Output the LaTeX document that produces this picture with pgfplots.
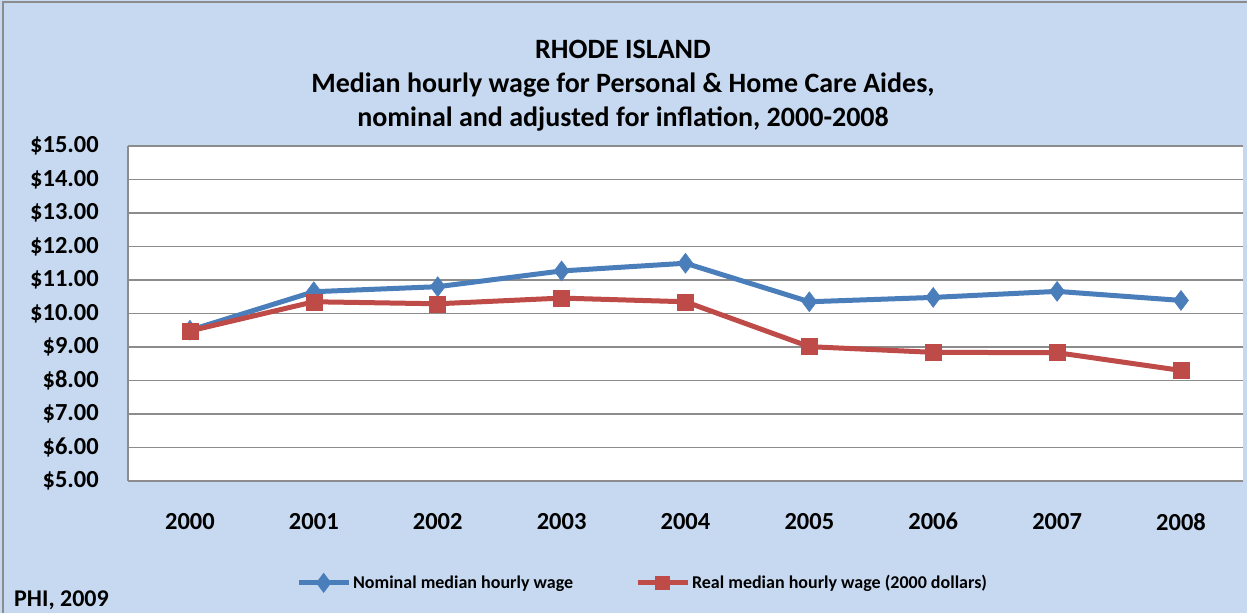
\documentclass[border=0pt]{standalone}
\usepackage{pgfplots}
\pgfplotsset{compat=1.18}
\usepackage{fontspec}
\setmainfont{Carlito}
\definecolor{bgblue}{HTML}{C6D9F0}
\definecolor{serblue}{HTML}{4A7EBB}
\definecolor{serred}{HTML}{BE4B48}
\definecolor{gridgray}{HTML}{8C8C8C}
\begin{document}
\begin{tikzpicture}[x=1bp,y=1bp]
\path[use as bounding box] (0,0) rectangle (1247,613);
\fill[bgblue] (0,0) rectangle (1247,613);
\draw[gridgray,line width=1.5bp] (3,0) -- (3,611) -- (1247,611);
\node[font=\bfseries\fontsize{28bp}{34bp}\selectfont,align=center,anchor=center] at (623,527)
  {RHODE ISLAND\\Median hourly wage for Personal \& Home Care Aides,\\nominal and adjusted for inflation, 2000-2008};
\node[font=\bfseries\fontsize{24bp}{28bp}\selectfont,anchor=base west,inner sep=0pt] at (14,6) {PHI, 2009};
\begin{axis}[
  at={(128bp,132bp)}, anchor=south west,
  width=1115bp, height=335bp, scale only axis,
  xmin=-0.5, xmax=8.5, ymin=5, ymax=15,
  axis background/.style={fill=white},
  axis x line*=bottom, axis y line*=left,
  axis line style={gridgray,line width=1.5bp},
  xtick={0,...,8}, xticklabels={2000,2001,2002,2003,2004,2005,2006,2007,2008},
  ytick={5,...,15},
  yticklabels={\$5.00,\$6.00,\$7.00,\$8.00,\$9.00,\$10.00,\$11.00,\$12.00,\$13.00,\$14.00,\$15.00},
  major tick length=0pt,
  ymajorgrids, major grid style={gridgray,line width=1.5bp},
  tick label style={font=\bfseries\fontsize{24.5bp}{28bp}\selectfont},
  yticklabel style={inner sep=0pt, xshift=-29bp},
  xticklabel style={inner sep=0pt, yshift=-32bp},
  legend style={at={(0.4615,-0.304)}, anchor=center, draw=none, fill=none,
    font=\bfseries\fontsize{18bp}{22bp}\selectfont, legend columns=2,
    /tikz/every even column/.append style={column sep=60bp}},
  legend image code/.code={
    \draw[#1,mark=none] (0bp,0bp) -- (50bp,0bp);
    \draw[#1,only marks,mark options={scale=0.6}] plot coordinates {(25bp,0bp)};
  },
  clip=false,
]
\addplot[serblue, line width=5bp, mark=diamond*, mark size=10bp, mark options={fill=serblue,draw=serblue,line width=0.5bp}]
  coordinates {(0,9.50) (1,10.65) (2,10.80) (3,11.27) (4,11.50) (5,10.35) (6,10.48) (7,10.66) (8,10.39)};
\addlegendentry{Nominal median hourly wage}
\addplot[serred, line width=5bp, mark=square*, mark size=8bp, mark options={fill=serred,draw=serred,line width=0.5bp}]
  coordinates {(0,9.48) (1,10.35) (2,10.29) (3,10.46) (4,10.35) (5,9.01) (6,8.84) (7,8.83) (8,8.30)};
\addlegendentry{Real median hourly wage (2000 dollars)}
\end{axis}
\end{tikzpicture}
\end{document}
